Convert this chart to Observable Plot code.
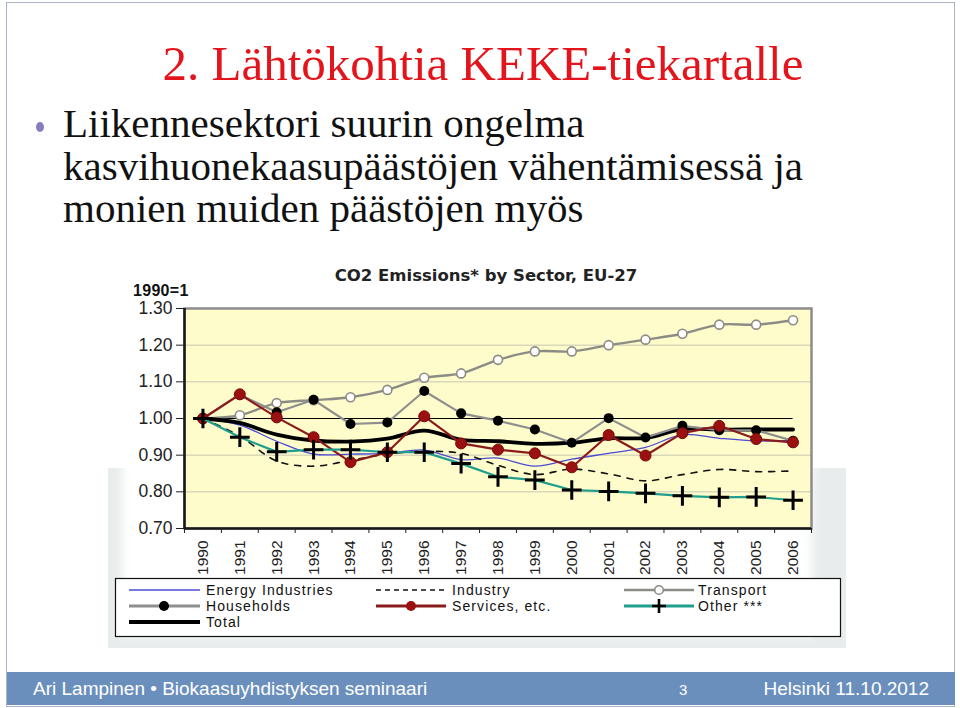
<!DOCTYPE html>
<html>
<head>
<meta charset="utf-8">
<script src="https://cdn.jsdelivr.net/npm/d3@7"></script>
<script src="https://cdn.jsdelivr.net/npm/@observablehq/plot@0.6"></script>
<style>
  html, body { margin: 0; padding: 0; background: #fff; }
  #slide { position: relative; width: 960px; height: 708px; overflow: hidden; background: #fff; }
  #bg { position: absolute; left: 0; top: 0; }
  #chart { position: absolute; left: 100px; top: 258px; }
</style>
</head>
<body>
<div id="slide">
  <svg id="bg" width="960" height="708" xmlns="http://www.w3.org/2000/svg">
    <defs>
      <filter id="soft" x="-20%" y="-20%" width="140%" height="140%"><feGaussianBlur stdDeviation="5"/></filter>
    </defs>
    <!-- slide frame -->
    <rect x="6.5" y="2.5" width="948" height="704" fill="none" stroke="#a9b5c6" stroke-width="1"/>
    <!-- chart picture soft shadow -->
    <rect x="108" y="468" width="738" height="180" fill="#e8ecec"/>
    <rect x="122" y="446" width="690" height="190" fill="#ffffff" filter="url(#soft)"/>
    <!-- slide title & body -->
    <text x="483" y="80" text-anchor="middle" font-family="'Liberation Serif','Times New Roman',serif" font-size="49" fill="#e3141b">2. Lähtökohtia KEKE-tiekartalle</text>
    <ellipse cx="40" cy="127" rx="4" ry="5" fill="#8a7cc0"/>
    <g font-family="'Liberation Serif','Times New Roman',serif" font-size="41" fill="#111">
      <text x="63" y="137">Liikennesektori suurin ongelma</text>
      <text x="63" y="180">kasvihuonekaasupäästöjen vähentämisessä ja</text>
      <text x="63" y="222">monien muiden päästöjen myös</text>
    </g>
    <!-- chart title -->
    <text x="486" y="281" text-anchor="middle" font-family="'DejaVu Sans',Verdana,sans-serif" font-weight="bold" font-size="16.5" fill="#222">CO2 Emissions* by Sector, EU-27</text>
    <text x="133" y="296" font-family="'Liberation Sans',Arial,sans-serif" font-weight="bold" font-size="16" letter-spacing="0.3" fill="#111">1990=1</text>
    <!-- legend -->
    <rect x="115.5" y="578.5" width="725" height="58" fill="#fff" stroke="#111" stroke-width="1.2"/>
    <g font-family="'Liberation Sans',Arial,sans-serif" font-size="14" letter-spacing="1.1" fill="#111">
      <line x1="129" y1="590" x2="200" y2="590" stroke="#4b4bd6" stroke-width="1.3"/>
      <text x="206" y="595">Energy Industries</text>
      <line x1="376" y1="590" x2="446" y2="590" stroke="#111" stroke-width="1.6" stroke-dasharray="5,4"/>
      <text x="452" y="595">Industry</text>
      <line x1="624" y1="590" x2="694" y2="590" stroke="#8c8c86" stroke-width="2.4"/>
      <circle cx="659" cy="590" r="4.3" fill="#fff" stroke="#8c8c86" stroke-width="1.6"/>
      <text x="698" y="595">Transport</text>

      <line x1="129" y1="606" x2="200" y2="606" stroke="#8e8e8e" stroke-width="3"/>
      <circle cx="164" cy="606" r="5" fill="#000"/>
      <text x="206" y="611">Households</text>
      <line x1="376" y1="606" x2="446" y2="606" stroke="#8b1a1a" stroke-width="3"/>
      <circle cx="411" cy="606" r="5" fill="#9b1010"/>
      <text x="452" y="611">Services, etc.</text>
      <line x1="624" y1="606" x2="694" y2="606" stroke="#1f9e8e" stroke-width="3"/>
      <path d="M652,606H666M659,599V613" stroke="#000" stroke-width="2.6"/>
      <text x="698" y="611">Other ***</text>

      <line x1="129" y1="622" x2="200" y2="622" stroke="#000" stroke-width="4"/>
      <text x="206" y="627">Total</text>
    </g>
    <!-- footer -->
    <rect x="7" y="672" width="948" height="33" fill="#6b8fbd"/>
    <g font-family="'Liberation Sans',Arial,sans-serif" fill="#fff">
      <text x="33" y="695" font-size="19">Ari Lampinen •  Biokaasuyhdistyksen seminaari</text>
      <text x="679" y="695" font-size="15">3</text>
      <text x="929" y="695" font-size="19" text-anchor="end">Helsinki 11.10.2012</text>
    </g>
  </svg>
  <div id="chart"></div>
</div>
<script>
// ---- data (index 1990 = 1) ----
const years = [1990, 1991, 1992, 1993, 1994, 1995, 1996, 1997, 1998, 1999, 2000, 2001, 2002, 2003, 2004, 2005, 2006];
const energyIndustries = [1.000, 0.982, 0.938, 0.903, 0.903, 0.905, 0.914, 0.888, 0.892, 0.870, 0.889, 0.905, 0.921, 0.956, 0.946, 0.939, 0.940];
const industry         = [1.000, 0.952, 0.884, 0.870, 0.886, 0.903, 0.910, 0.905, 0.872, 0.847, 0.862, 0.849, 0.830, 0.847, 0.861, 0.855, 0.857];
const transport        = [1.000, 1.009, 1.042, 1.050, 1.058, 1.078, 1.111, 1.123, 1.160, 1.183, 1.183, 1.200, 1.215, 1.231, 1.256, 1.256, 1.268];
const households       = [1.000, 1.065, 1.017, 1.051, 0.985, 0.989, 1.075, 1.014, 0.994, 0.970, 0.934, 1.001, 0.948, 0.980, 0.968, 0.968, 0.939];
const services         = [1.000, 1.066, 1.003, 0.949, 0.881, 0.908, 1.006, 0.932, 0.915, 0.905, 0.867, 0.955, 0.899, 0.960, 0.980, 0.944, 0.935];
const total            = [1.000, 0.988, 0.956, 0.940, 0.937, 0.945, 0.967, 0.942, 0.938, 0.931, 0.934, 0.946, 0.947, 0.971, 0.970, 0.970, 0.970];
const other            = [1.000, 0.949, 0.909, 0.915, 0.915, 0.908, 0.908, 0.877, 0.841, 0.832, 0.805, 0.801, 0.796, 0.789, 0.785, 0.786, 0.777];
const yTicks = [0.70, 0.80, 0.90, 1.00, 1.10, 1.20, 1.30];
const gridValues = [0.80, 0.90, 1.10, 1.20];
const baseValue = [1.00];

const rows = vals => years.map((year, i) => ({year, value: vals[i]}));
const boundaries = years.concat([years[years.length - 1] + 1]).map(y => y - 0.5);

const chart = Plot.plot({
  width: 750,
  height: 320,
  marginLeft: 84,
  marginRight: 39,
  marginTop: 50,
  marginBottom: 50,
  style: {background: "transparent", fontFamily: "'Liberation Sans', Arial, sans-serif", color: "#222", overflow: "visible"},
  x: {type: "linear", domain: [years[0] - 0.5, years[years.length - 1] + 0.5]},
  y: {domain: [yTicks[0], yTicks[yTicks.length - 1]]},
  marks: [
    Plot.frame({fill: "#fffccb"}),
    Plot.ruleY(gridValues, {stroke: "#c6c6b2", strokeWidth: 1}),
    Plot.ruleY(baseValue, {x1: years[0], x2: years[years.length - 1], stroke: "#000", strokeWidth: 1.2}),
    Plot.frame({stroke: "#8c8c8c", strokeWidth: 2.5}),
    Plot.ruleX([years[0] - 0.5], {stroke: "#1a1a1a", strokeWidth: 2.5}),
    Plot.ruleY([yTicks[0]], {stroke: "#1a1a1a", strokeWidth: 2.5}),
    Plot.axisY({ticks: yTicks, tickSize: 8, tickPadding: 4, tickFormat: d => d.toFixed(2), fontSize: 17.5, stroke: "#222", label: null}),
    Plot.axisX({ticks: years, tickSize: 0, tickPadding: 12, tickRotate: -90, fontSize: 15.5, tickFormat: d => String(d), label: null}),
    Plot.axisX({ticks: boundaries, tickSize: 5, tickFormat: () => "", stroke: "#222", label: null}),

    Plot.line(rows(energyIndustries), {x: "year", y: "value", stroke: "#4b4bd6", strokeWidth: 1.3, curve: "catmull-rom"}),
    Plot.line(rows(industry), {x: "year", y: "value", stroke: "#111", strokeWidth: 1.6, strokeDasharray: "6,7", curve: "catmull-rom"}),
    Plot.line(rows(transport), {x: "year", y: "value", stroke: "#8c8c86", strokeWidth: 2.4, curve: "catmull-rom"}),
    Plot.dot(rows(transport), {x: "year", y: "value", r: 4.5, fill: "#fff", stroke: "#8c8c86", strokeWidth: 1.6}),
    Plot.line(rows(total), {x: "year", y: "value", stroke: "#000", strokeWidth: 3.8, curve: "catmull-rom"}),
    Plot.line(rows(households), {x: "year", y: "value", stroke: "#8e8e8e", strokeWidth: 2.2}),
    Plot.dot(rows(households), {x: "year", y: "value", r: 5, fill: "#000"}),
    Plot.line(rows(services), {x: "year", y: "value", stroke: "#8b1a1a", strokeWidth: 2.2}),
    Plot.dot(rows(services), {x: "year", y: "value", r: 5.5, fill: "#9b1010", stroke: "#7a0a0a", strokeWidth: 1}),
    Plot.line(rows(other), {x: "year", y: "value", stroke: "#1f9e8e", strokeWidth: 2.2}),
    Plot.dot(rows(other), {x: "year", y: "value", symbol: "plus", r: 6.4, stroke: "#000", strokeWidth: 3})
  ]
});
document.getElementById("chart").appendChild(chart);
</script>
</body>
</html>
